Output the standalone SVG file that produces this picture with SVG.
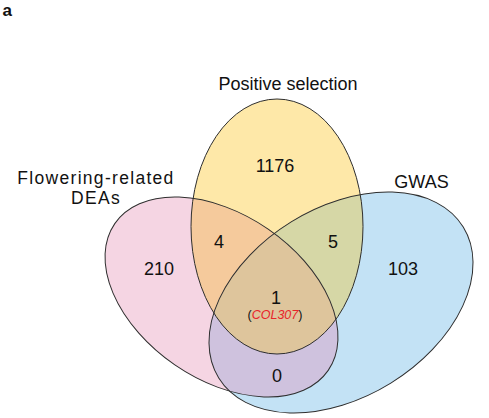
<svg xmlns="http://www.w3.org/2000/svg" width="489" height="418" viewBox="0 0 489 418">
<style>
.lbl{font-family:"Liberation Sans",Arial,sans-serif;font-size:18px;fill:#111;text-anchor:middle}
.num{font-family:"Liberation Sans",Arial,sans-serif;font-size:18px;fill:#111;text-anchor:middle}
.edge{fill:none;stroke:#2e2e2e;stroke-width:1}
</style>
<defs>
<ellipse id="eP" cx="0" cy="0" rx="129.5" ry="82.4" transform="translate(221.5,297) rotate(34.5)"/>
<ellipse id="eY" cx="277" cy="226.5" rx="86" ry="127.5"/>
<ellipse id="eB" cx="0" cy="0" rx="143.7" ry="94.8" transform="translate(341,302.5) rotate(-31.7)"/>
<clipPath id="cP"><use href="#eP"/></clipPath>
<clipPath id="cY"><use href="#eY"/></clipPath>
<clipPath id="cB"><use href="#eB"/></clipPath>
</defs>
<rect width="489" height="418" fill="#fff"/>
<text x="2.5" y="16" style="font-family:'Liberation Sans',Arial,sans-serif;font-size:17px;font-weight:bold;fill:#111">a</text>

<g id="set-flowering">
<use href="#eP" fill="#F5D5E3"/>
</g>
<g id="set-gwas">
<use href="#eB" fill="#C3E2F5"/>
</g>
<g id="set-positive">
<use href="#eY" fill="#FEE8A8"/>
</g>
<g id="overlaps">
<g clip-path="url(#cP)"><use href="#eY" fill="#F5CA9C"/></g>
<g clip-path="url(#cB)"><use href="#eY" fill="#D6D7A6"/></g>
<g clip-path="url(#cP)"><use href="#eB" fill="#CFC2DE"/></g>
<g clip-path="url(#cP)"><g clip-path="url(#cB)"><use href="#eY" fill="#DEC59C"/></g></g>
</g>
<g id="outlines">
<use href="#eP" class="edge"/>
<use href="#eB" class="edge"/>
<use href="#eY" class="edge"/>
</g>

<g id="labels">
<text class="lbl" x="288" y="90">Positive selection</text>
<text class="lbl" x="96" y="184" style="font-size:17.5px;letter-spacing:1.3px">Flowering-related</text>
<text class="lbl" x="96" y="204" style="font-size:17.5px;letter-spacing:1.3px">DEAs</text>
<text class="lbl" x="421.5" y="188">GWAS</text>
</g>
<g id="counts">
<text class="num" x="275" y="172">1176</text>
<text class="num" x="219" y="248">4</text>
<text class="num" x="333" y="248">5</text>
<text class="num" x="159" y="275">210</text>
<text class="num" x="403" y="275">103</text>
<text class="num" x="276" y="303.5">1</text>
<text class="num" x="275" y="319" style="font-size:12.5px">(<tspan fill="#E8242A" font-style="italic">COL307</tspan>)</text>
<text class="num" x="277" y="382">0</text>
</g>
</svg>
